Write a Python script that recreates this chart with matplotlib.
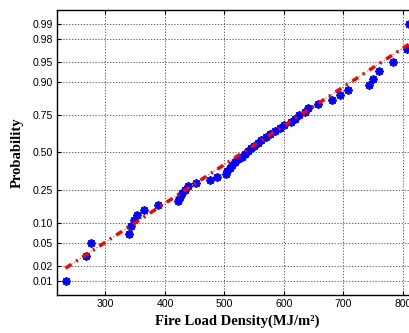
import numpy as np
import matplotlib
matplotlib.use("Agg")
import matplotlib.pyplot as plt
from statistics import NormalDist

# Fire load density samples (MJ/m^2), sorted
fire_load = [233, 267, 275, 340, 343, 348, 353, 365, 388, 422,
             425, 428, 433, 438, 453, 475, 488, 502, 505, 509,
             512, 517, 522, 529, 535, 540, 545, 550, 557, 562,
             569, 577, 585, 594, 600, 612, 618, 625, 636, 641,
             657, 681, 694, 708, 743, 749, 759, 783, 806, 810]

# Normal fit parameters (reference line)
fit_mu = 531.0
fit_sigma = 142.0

prob_ticks = [0.01, 0.02, 0.05, 0.10, 0.25, 0.50, 0.75, 0.90, 0.95, 0.98, 0.99]
x_ticks = [300, 400, 500, 600, 700, 800]

nd = NormalDist()
_ppf = np.vectorize(lambda p: nd.inv_cdf(min(max(p, 1e-12), 1 - 1e-12)), otypes=[float])
_cdf = np.vectorize(lambda z: nd.cdf(z), otypes=[float])

def fwd(p):
    return _ppf(np.asarray(p, dtype=float))

def inv(z):
    return _cdf(np.asarray(z, dtype=float))

x = np.sort(np.array(fire_load, dtype=float))
n = len(x)
pos = (np.arange(1, n + 1) - 0.5) / n

fig = plt.figure(figsize=(4.10, 3.33), dpi=100)
ax = fig.add_axes([57 / 410, 1 - 295 / 333, (417.5 - 57) / 410, (295 - 10) / 333])
ax.set_yscale('function', functions=(fwd, inv))

xmin, xmax = x.min(), x.max()
line_x = np.array([xmin, xmax])
line_p = inv((line_x - fit_mu) / fit_sigma)

ax.plot(line_x, line_p, color='#33aa33', lw=0.6, ls=(0, (2, 2)), zorder=2)
ax.plot(x, pos, linestyle='none', marker=(8, 2, 0), color='#0000ff',
        markersize=6, markeredgewidth=1.3, zorder=3)
ax.plot(line_x, line_p, color='#ff0000', lw=2.5,
        ls=(0, (2.0, 1.6, 0.6, 1.6)), zorder=4)

rng = xmax - xmin
ax.set_xlim(xmin - 0.025 * rng, xmax + 0.025 * rng)
ax.set_ylim(float(inv(-2.586)), float(inv(2.586)))

ax.set_yticks(prob_ticks)
ax.set_yticklabels([f"{p:.2f}" for p in prob_ticks])
ax.set_xticks(x_ticks)
ax.set_xticklabels([str(t) for t in x_ticks])
ax.minorticks_off()

for lbl in ax.get_xticklabels() + ax.get_yticklabels():
    lbl.set_fontfamily('Liberation Sans')
    lbl.set_fontsize(7.6)

ax.tick_params(direction='in', length=3, width=0.8, top=True, right=True,
               pad=3, colors='black')
ax.grid(True, color='#444444', linestyle=(0, (1.5, 2)), linewidth=0.6)
for s in ax.spines.values():
    s.set_linewidth(1.0)
    s.set_color('black')

ax.set_xlabel('Fire Load Density(MJ/m²)', fontfamily='Liberation Serif',
              fontweight='bold', fontsize=10.5, labelpad=4)
ax.set_ylabel('Probability', fontfamily='Liberation Serif', fontweight='bold',
              fontsize=10.5, labelpad=6)

fig.savefig('out.png', dpi=100)
